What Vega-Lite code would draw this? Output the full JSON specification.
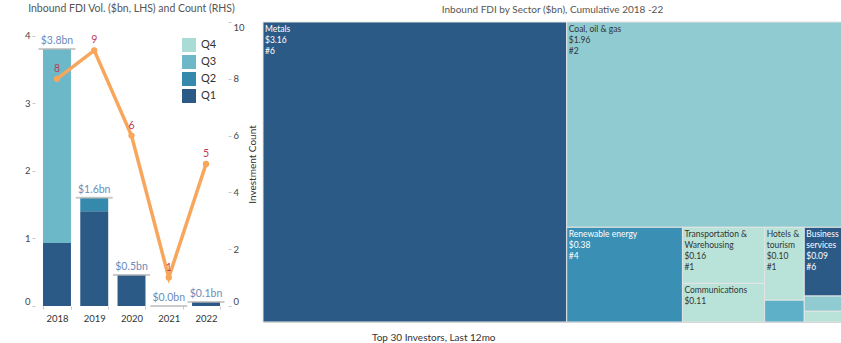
{
  "$schema": "https://vega.github.io/schema/vega-lite/v6.json",
  "padding": {"left": 24, "top": 4, "right": 0, "bottom": 0},
  "background": "white",
  "config": {
    "font": "Lato, sans-serif",
    "view": {"stroke": null},
    "title": {"fontSize": 10, "fontWeight": "normal", "color": "#555555"},
    "axis": {"labelFontSize": 9.5, "labelColor": "#444444", "titleFontWeight": "normal", "titleFontSize": 10, "titleColor": "#333333", "domain": false, "grid": false, "tickColor": "#c8c8c8", "tickSize": 3, "labelPadding": 2}
  },
  "datasets": {
    "quarters": [
      {"year": "2018", "quarter": "Q1", "value": 0.93},
      {"year": "2018", "quarter": "Q3", "value": 2.87},
      {"year": "2019", "quarter": "Q1", "value": 1.40},
      {"year": "2019", "quarter": "Q2", "value": 0.20},
      {"year": "2020", "quarter": "Q1", "value": 0.46},
      {"year": "2021", "quarter": "Q1", "value": 0},
      {"year": "2022", "quarter": "Q1", "value": 0.06}
    ],
    "counts": [
      {"year": "2018", "count": 8},
      {"year": "2019", "count": 9},
      {"year": "2020", "count": 6},
      {"year": "2021", "count": 1},
      {"year": "2022", "count": 5}
    ],
    "sectors": [
      {"sector": "Metals", "name": "Metals", "value": 3.16, "count": 6, "g1": 1, "g2": 1, "g3": 1, "o": 1},
      {"sector": "Coal, oil & gas", "name": "Coal, oil & gas", "value": 1.96, "count": 2, "g1": 2, "g2": 1, "g3": 1, "o": 1},
      {"sector": "Renewable energy", "name": "Renewable energy", "value": 0.38, "count": 4, "g1": 2, "g2": 2, "g3": 1, "o": 1},
      {"sector": "Transportation & Warehousing", "name": "Transportation &\nWarehousing", "value": 0.16, "count": 1, "g1": 2, "g2": 2, "g3": 2, "o": 1},
      {"sector": "Communications", "name": "Communications", "value": 0.11, "count": 1, "g1": 2, "g2": 2, "g3": 2, "o": 2},
      {"sector": "Hotels & tourism", "name": "Hotels &\ntourism", "value": 0.10, "count": 1, "g1": 2, "g2": 2, "g3": 3, "o": 1},
      {"sector": "Other (a)", "name": "Other (a)", "value": 0.03, "count": 3, "g1": 2, "g2": 2, "g3": 3, "o": 2},
      {"sector": "Business services", "name": "Business\nservices", "value": 0.09, "count": 6, "g1": 2, "g2": 2, "g3": 4, "o": 1},
      {"sector": "Other (b)", "name": "Other (b)", "value": 0.02, "count": 2, "g1": 2, "g2": 2, "g3": 4, "o": 2},
      {"sector": "Other (c)", "name": "Other (c)", "value": 0.014, "count": 1, "g1": 2, "g2": 2, "g3": 4, "o": 3}
    ]
  },
  "title": {"text": "Top 30 Investors, Last 12mo", "orient": "bottom", "anchor": "middle", "fontSize": 10, "color": "#333333", "offset": 10},
  "spacing": 4,
  "resolve": {"scale": {"color": "independent", "x": "independent", "y": "independent"}, "legend": {"color": "independent"}},
  "hconcat": [
    {
      "width": 193,
      "height": 284,
      "title": {"text": "Inbound FDI Vol. ($bn, LHS) and Count (RHS)", "frame": "group", "anchor": "middle", "offset": 7, "fontSize": 10.5},
      "layer": [
        {
          "data": {"name": "quarters"},
          "encoding": {
            "x": {"field": "year", "type": "ordinal", "scale": {"paddingInner": 0.25, "paddingOuter": 0.215},
                  "axis": {"title": null, "labelAngle": 0, "labelColor": "#333333", "tickBand": "extent", "labelPadding": 4}}
          },
          "layer": [
            {
              "mark": {"type": "bar"},
              "encoding": {
                "y": {"field": "value", "type": "quantitative", "scale": {"domain": [0, 4.2], "nice": false},
                      "axis": {"title": null, "values": [0, 1, 2, 3, 4], "format": "d", "labelFlush": true}},
                "color": {"field": "quarter", "type": "nominal",
                          "scale": {"domain": ["Q4", "Q3", "Q2", "Q1"], "range": ["#a9dcd5", "#6cb8c8", "#3489ad", "#2c5a87"]},
                          "legend": {"orient": "none", "legendX": 147, "legendY": 16, "title": null, "symbolType": "square", "symbolSize": 196, "symbolStrokeWidth": 0, "labelFontSize": 11, "labelColor": "#333333", "rowPadding": 3, "labelOffset": 5}},
                "order": {"field": "quarter", "sort": "ascending"}
              }
            },
            {
              "transform": [
                {"aggregate": [{"op": "sum", "field": "value", "as": "total"}], "groupby": ["year"]},
                {"calculate": "'$' + format(datum.total, '.1f') + 'bn'", "as": "lbl"}
              ],
              "layer": [
                {
                  "mark": {"type": "tick", "color": "#b5b5b5", "thickness": 2, "size": 37},
                  "encoding": {"y": {"field": "total", "type": "quantitative", "axis": {"title": null}}}
                },
                {
                  "mark": {"type": "text", "dy": -8, "color": "#6b8cba", "fontSize": 10.5},
                  "encoding": {"y": {"field": "total", "type": "quantitative", "axis": {"title": null}}, "text": {"field": "lbl"}}
                }
              ]
            }
          ]
        },
        {
          "data": {"name": "counts"},
          "encoding": {
            "x": {"field": "year", "type": "ordinal",
                  "axis": {"title": null, "labelAngle": 0, "labelColor": "#333333", "tickBand": "extent", "labelPadding": 4}},
            "y": {"field": "count", "type": "quantitative", "scale": {"domain": [0, 10], "nice": false},
                  "axis": {"orient": "right", "title": "Investment Count", "titleAngle": 270, "titleBaseline": "top", "values": [0, 2, 4, 6, 8, 10], "labelFlush": true, "titlePadding": 3}}
          },
          "layer": [
            {"mark": {"type": "line", "color": "#f7a65c", "strokeWidth": 3.5}},
            {"mark": {"type": "point", "filled": true, "color": "#f7a65c", "size": 40, "opacity": 1}},
            {"mark": {"type": "text", "dy": -10, "color": "#c0395a", "fontSize": 10.5}, "encoding": {"text": {"field": "count"}}}
          ]
        }
      ],
      "resolve": {"scale": {"y": "independent"}}
    },
    {
      "width": 579,
      "height": 300,
      "title": {"text": "Inbound FDI by Sector ($bn), Cumulative  2018 -22", "frame": "group", "anchor": "middle", "offset": 7},
      "view": {"stroke": "#c8c8c8"},
      "data": {"name": "sectors"},
      "transform": [
        {"joinaggregate": [{"op": "sum", "field": "value", "as": "T"}]},
        {"stack": "value", "groupby": [], "sort": [{"field": "g1", "order": "ascending"}, {"field": "g2", "order": "ascending"}, {"field": "g3", "order": "ascending"}, {"field": "o", "order": "ascending"}], "as": ["a0", "a1"]},
        {"joinaggregate": [{"op": "min", "field": "a0", "as": "A0"}, {"op": "max", "field": "a1", "as": "A1"}], "groupby": ["g1"]},
        {"stack": "value", "groupby": ["g1"], "sort": [{"field": "g2", "order": "ascending"}, {"field": "g3", "order": "ascending"}, {"field": "o", "order": "ascending"}], "offset": "normalize", "as": ["b0", "b1"]},
        {"joinaggregate": [{"op": "min", "field": "b0", "as": "B0"}, {"op": "max", "field": "b1", "as": "B1"}], "groupby": ["g1", "g2"]},
        {"stack": "value", "groupby": ["g1", "g2"], "sort": [{"field": "g3", "order": "ascending"}, {"field": "o", "order": "ascending"}], "offset": "normalize", "as": ["c0", "c1"]},
        {"joinaggregate": [{"op": "min", "field": "c0", "as": "C0"}, {"op": "max", "field": "c1", "as": "C1"}], "groupby": ["g1", "g2", "g3"]},
        {"stack": "value", "groupby": ["g1", "g2", "g3"], "sort": [{"field": "o", "order": "ascending"}], "offset": "normalize", "as": ["d0", "d1"]},
        {"calculate": "(datum.A0 + datum.C0 * (datum.A1 - datum.A0)) / datum.T", "as": "x0"},
        {"calculate": "(datum.A0 + datum.C1 * (datum.A1 - datum.A0)) / datum.T", "as": "x1"},
        {"calculate": "datum.B0 + datum.d0 * (datum.B1 - datum.B0)", "as": "y0"},
        {"calculate": "datum.B0 + datum.d1 * (datum.B1 - datum.B0)", "as": "y1"},
        {"calculate": "datum.name + '\\n$' + format(datum.value, '.2f') + ((datum.y1 - datum.y0) > 0.15 ? '\\n#' + datum.count : '')", "as": "lbl"}
      ],
      "layer": [
        {
          "mark": {"type": "rect", "stroke": "#e4e4e4", "strokeWidth": 1},
          "encoding": {
            "x": {"field": "x0", "type": "quantitative", "scale": {"domain": [0, 1], "nice": false, "zero": false}, "axis": null},
            "x2": {"field": "x1"},
            "y": {"field": "y0", "type": "quantitative", "scale": {"domain": [0, 1], "nice": false, "zero": false, "reverse": true}, "axis": null},
            "y2": {"field": "y1"},
            "color": {"field": "count", "type": "ordinal", "scale": {"domain": [1, 2, 3, 4, 6], "range": ["#b9e3d9", "#8fcbd1", "#5eb0c8", "#3a8fb5", "#2c5a87"]}, "legend": null}
          }
        },
        {
          "transform": [{"filter": "datum.value >= 0.09"}],
          "mark": {"type": "text", "align": "left", "baseline": "top", "dx": 2, "dy": 3, "fontSize": 8.5, "lineBreak": "\n", "lineHeight": 11},
          "encoding": {
            "x": {"field": "x0", "type": "quantitative"},
            "y": {"field": "y0", "type": "quantitative"},
            "text": {"field": "lbl"},
            "color": {"condition": {"test": "datum.count >= 4", "value": "white"}, "value": "#333333"}
          }
        }
      ]
    }
  ]
}
